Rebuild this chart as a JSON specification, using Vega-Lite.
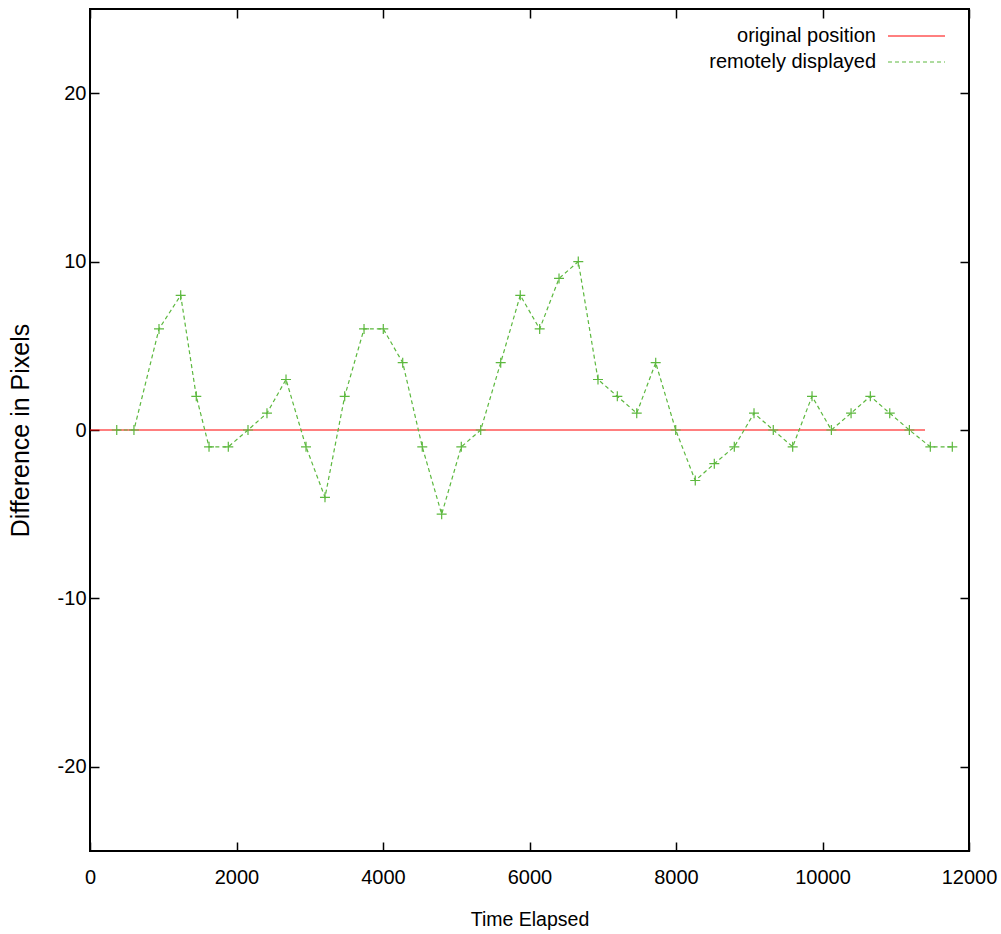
{
  "$schema": "https://vega.github.io/schema/vega-lite/v6.json",
  "width": 879,
  "height": 842,
  "autosize": {"type": "none"},
  "padding": {"left": 90, "top": 9, "right": 32, "bottom": 83},
  "background": "white",
  "config": {
    "view": {"stroke": "black", "strokeWidth": 2},
    "font": "Liberation Sans"
  },
  "data": {
    "values": [
      {"t": 0, "diff": 0, "series": "original position"},
      {"t": 11400, "diff": 0, "series": "original position"},
      {"t": 365, "diff": 0, "series": "remotely displayed"},
      {"t": 600, "diff": 0, "series": "remotely displayed"},
      {"t": 942, "diff": 6, "series": "remotely displayed"},
      {"t": 1238, "diff": 8, "series": "remotely displayed"},
      {"t": 1451, "diff": 2, "series": "remotely displayed"},
      {"t": 1625, "diff": -1, "series": "remotely displayed"},
      {"t": 1888, "diff": -1, "series": "remotely displayed"},
      {"t": 2157, "diff": 0, "series": "remotely displayed"},
      {"t": 2416, "diff": 1, "series": "remotely displayed"},
      {"t": 2676, "diff": 3, "series": "remotely displayed"},
      {"t": 2949, "diff": -1, "series": "remotely displayed"},
      {"t": 3208, "diff": -4, "series": "remotely displayed"},
      {"t": 3477, "diff": 2, "series": "remotely displayed"},
      {"t": 3741, "diff": 6, "series": "remotely displayed"},
      {"t": 4004, "diff": 6, "series": "remotely displayed"},
      {"t": 4269, "diff": 4, "series": "remotely displayed"},
      {"t": 4536, "diff": -1, "series": "remotely displayed"},
      {"t": 4801, "diff": -5, "series": "remotely displayed"},
      {"t": 5069, "diff": -1, "series": "remotely displayed"},
      {"t": 5334, "diff": 0, "series": "remotely displayed"},
      {"t": 5607, "diff": 4, "series": "remotely displayed"},
      {"t": 5874, "diff": 8, "series": "remotely displayed"},
      {"t": 6139, "diff": 6, "series": "remotely displayed"},
      {"t": 6403, "diff": 9, "series": "remotely displayed"},
      {"t": 6666, "diff": 10, "series": "remotely displayed"},
      {"t": 6935, "diff": 3, "series": "remotely displayed"},
      {"t": 7199, "diff": 2, "series": "remotely displayed"},
      {"t": 7464, "diff": 1, "series": "remotely displayed"},
      {"t": 7723, "diff": 4, "series": "remotely displayed"},
      {"t": 7996, "diff": 0, "series": "remotely displayed"},
      {"t": 8263, "diff": -3, "series": "remotely displayed"},
      {"t": 8523, "diff": -2, "series": "remotely displayed"},
      {"t": 8796, "diff": -1, "series": "remotely displayed"},
      {"t": 9065, "diff": 1, "series": "remotely displayed"},
      {"t": 9328, "diff": 0, "series": "remotely displayed"},
      {"t": 9593, "diff": -1, "series": "remotely displayed"},
      {"t": 9857, "diff": 2, "series": "remotely displayed"},
      {"t": 10121, "diff": 0, "series": "remotely displayed"},
      {"t": 10390, "diff": 1, "series": "remotely displayed"},
      {"t": 10653, "diff": 2, "series": "remotely displayed"},
      {"t": 10918, "diff": 1, "series": "remotely displayed"},
      {"t": 11186, "diff": 0, "series": "remotely displayed"},
      {"t": 11472, "diff": -1, "series": "remotely displayed"},
      {"t": 11772, "diff": -1, "series": "remotely displayed"}
    ]
  },
  "layer": [
    {
      "mark": {"type": "line", "strokeWidth": 1.2},
      "encoding": {
        "x": {
          "field": "t", "type": "quantitative",
          "scale": {"domain": [0, 12000], "nice": false, "zero": false},
          "axis": {
            "orient": "bottom", "values": [0, 2000, 4000, 6000, 8000, 10000, 12000],
            "labelExpr": "'' + datum.value", "tickSize": -9, "tickColor": "black", "tickWidth": 1.5,
            "domain": false, "grid": false, "labelFlush": false, "labelOverlap": false,
            "labelFont": "Liberation Sans", "labelFontSize": 20, "labelColor": "black",
            "labelPadding": 25,
            "title": "Time Elapsed", "titleFont": "Liberation Sans", "titleFontSize": 19.5,
            "titleFontWeight": "normal", "titleColor": "black", "titlePadding": 23
          }
        },
        "y": {
          "field": "diff", "type": "quantitative",
          "scale": {"domain": [-25, 25], "nice": false, "zero": false},
          "axis": {
            "orient": "left", "values": [-20, -10, 0, 10, 20],
            "labelExpr": "'' + datum.value", "tickSize": -9, "tickColor": "black", "tickWidth": 1.5,
            "domain": false, "grid": false, "labelFlush": false, "labelOverlap": false,
            "labelFont": "Liberation Sans", "labelFontSize": 20, "labelColor": "black",
            "labelPadding": 13,
            "title": "Difference in Pixels", "titleFont": "Liberation Sans", "titleFontSize": 25,
            "titleFontWeight": "normal", "titleColor": "black", "titlePadding": 24
          }
        },
        "color": {
          "field": "series", "type": "nominal",
          "scale": {"domain": ["original position", "remotely displayed"], "range": ["#ff0000", "#5cb83e"]},
          "legend": {
            "title": null, "orient": "none", "legendX": 798, "legendY": 17, "padding": 0,
            "symbolType": "M-3,0L3,0", "symbolSize": 361, "symbolStrokeWidth": 1,
            "labelFont": "Liberation Sans", "labelFontSize": 20, "labelColor": "black", "labelLimit": 0,
            "rowPadding": 6,
            "encode": {
              "symbols": {"update": {"x": {"value": 28.5}}},
              "labels": {"update": {"x": {"value": -12}, "align": {"value": "right"}}}
            }
          }
        },
        "strokeDash": {
          "field": "series", "type": "nominal",
          "scale": {"domain": ["original position", "remotely displayed"], "range": [[1, 0], [4, 3]]},
          "legend": {
            "title": null, "orient": "none", "legendX": 798, "legendY": 17, "padding": 0,
            "symbolType": "M-3,0L3,0", "symbolSize": 361, "symbolStrokeWidth": 1,
            "labelFont": "Liberation Sans", "labelFontSize": 20, "labelColor": "black", "labelLimit": 0,
            "rowPadding": 6,
            "encode": {
              "symbols": {"update": {"x": {"value": 28.5}}},
              "labels": {"update": {"x": {"value": -12}, "align": {"value": "right"}}}
            }
          }
        }
      }
    },
    {
      "transform": [{"filter": "datum.series === 'remotely displayed'"}],
      "mark": {"type": "point", "shape": "M-1,0L1,0M0,-1L0,1", "size": 100, "filled": false, "strokeWidth": 1.2, "color": "#5cb83e", "opacity": 1},
      "encoding": {
        "x": {
          "field": "t", "type": "quantitative",
          "axis": {
            "orient": "top", "values": [0, 2000, 4000, 6000, 8000, 10000, 12000],
            "tickSize": -9, "tickColor": "black", "tickWidth": 1.5,
            "domain": false, "grid": false, "labels": false, "title": null
          }
        },
        "y": {
          "field": "diff", "type": "quantitative",
          "axis": {
            "orient": "right", "values": [-20, -10, 0, 10, 20],
            "tickSize": -9, "tickColor": "black", "tickWidth": 1.5,
            "domain": false, "grid": false, "labels": false, "title": null
          }
        }
      }
    }
  ],
  "resolve": {"axis": {"x": "independent", "y": "independent"}}
}
